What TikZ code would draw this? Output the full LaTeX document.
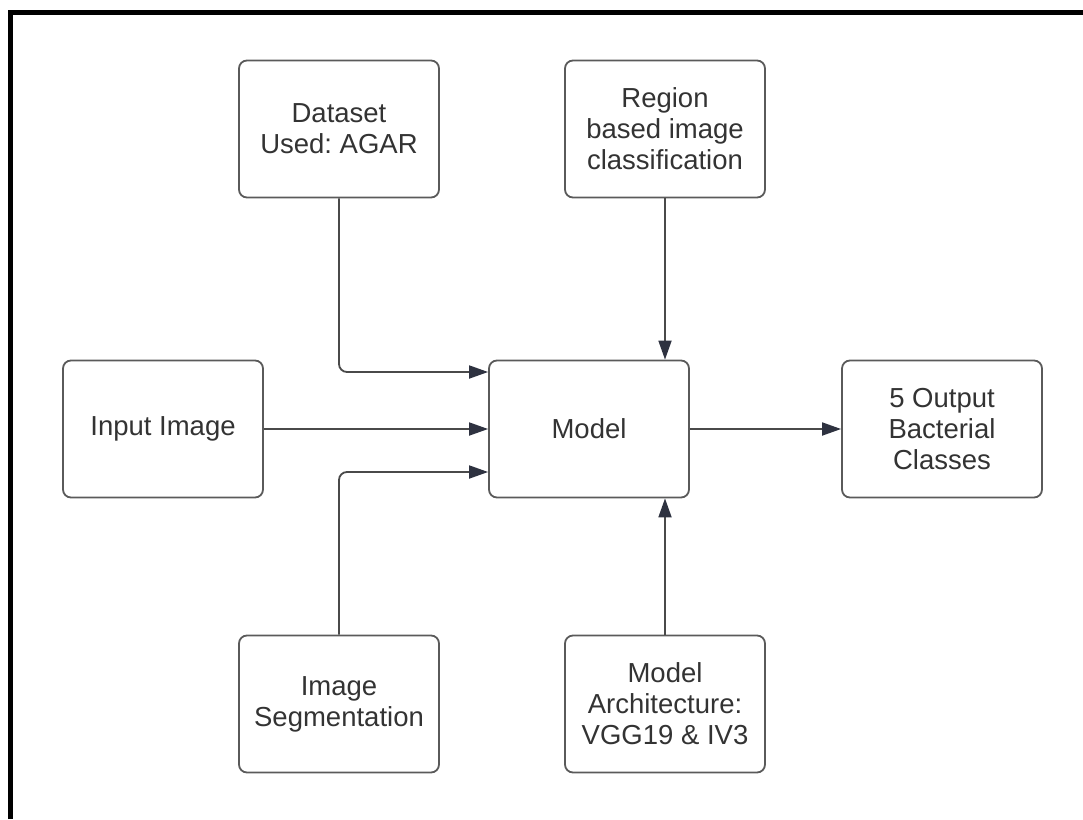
\documentclass[tikz,border=0pt]{standalone}
\usepackage{fontspec}
\setmainfont{Liberation Sans}
\usetikzlibrary{arrows.meta}
\definecolor{boxline}{HTML}{5A5A5A}
\definecolor{wire}{HTML}{4A4A4A}
\definecolor{tip}{HTML}{2E3240}
\definecolor{ink}{HTML}{333333}
\tikzset{
  block/.style={draw=boxline, line width=1.8pt, rounded corners=8pt,
    minimum width=200pt, minimum height=137pt, align=center,
    text=ink, font=\fontsize{27.5}{31}\selectfont\frenchspacing, inner sep=0pt},
  link/.style={draw=wire, line width=1.8pt, rounded corners=8pt,
    -{Triangle[length=19pt,width=13pt,fill=tip,color=tip]}}
}
\begin{document}
\begin{tikzpicture}[x=1pt,y=-1pt]
\useasboundingbox (0,0) rectangle (1083,819);
% frame edges
\draw[line width=4.5pt, black] (10.5,819) -- (10.5,12.5) -- (1083,12.5);

% nodes
\node[block] (data)   at (339,129) {Dataset\\Used: AGAR};
\node[block] (region) at (665,129) {Region\\based image\\classification};
\node[block] (input)  at (163,429) {Input Image};
\node[block] (model)  at (589,429) {Model};
\node[block] (out)    at (942,429) {5 Output\\Bacterial\\Classes};
\node[block] (seg)    at (339,704) {Image\\Segmentation};
\node[block] (arch)   at (665,704) {Model\\Architecture:\\VGG19 \& IV3};

% connectors
\draw[link] (data.south) |- ([yshift=57pt]model.west);
\draw[link] (input.east) -- (model.west);
\draw[link] (seg.north) |- ([yshift=-43pt]model.west);
\draw[link] (region.south) -- (region.south |- model.north);
\draw[link] (arch.north) -- (arch.north |- model.south);
\draw[link] (model.east) -- (out.west);
\end{tikzpicture}
\end{document}
